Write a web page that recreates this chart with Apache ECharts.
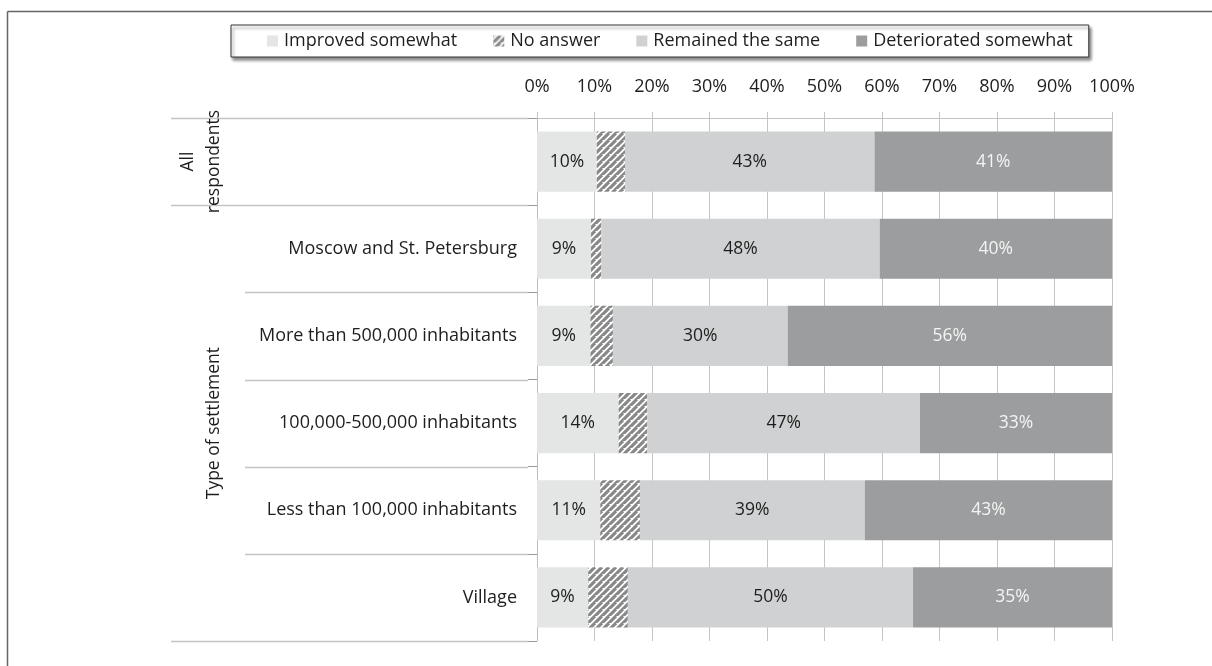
<!DOCTYPE html>
<html>
<head>
<meta charset="utf-8">
<script src="https://cdn.jsdelivr.net/npm/echarts@6/dist/echarts.min.js"></script>
<style>
html,body{margin:0;padding:0;background:#fff;}
#chart{width:1212px;height:666px;}
</style>
</head>
<body>
<div id="chart"></div>
<script>
// ---- data ----
const categories = ['', 'Moscow and St. Petersburg', 'More than 500,000 inhabitants', '100,000-500,000 inhabitants', 'Less than 100,000 inhabitants', 'Village'];
const seriesNames = ['Improved somewhat', 'No answer', 'Remained the same', 'Deteriorated somewhat'];
const improved     = [10.4, 9.4, 9.3, 14.2, 11.0, 8.9];
const noAnswer     = [4.9, 1.8, 3.9, 5.0, 6.9, 6.9];
const remained     = [43.4, 48.4, 30.4, 47.4, 39.1, 49.6];
const deteriorated = [41.3, 40.4, 56.4, 33.4, 43.0, 34.6];
const xTicks = [0, 10, 20, 30, 40, 50, 60, 70, 80, 90, 100];
const groupLabels = ['All\nrespondents', 'Type of settlement'];
const groupRanges = [[0, 0], [1, 5]];

// ---- style ----
const FONT = 'Open Sans';
const FS = 17.5;
const textColor = '#1e1e1e';

function hatch() {
  const s = 7;
  const c = document.createElement('canvas');
  c.width = s; c.height = s;
  const g = c.getContext('2d');
  g.fillStyle = '#ffffff';
  g.fillRect(0, 0, s, s);
  g.strokeStyle = '#888888';
  g.lineWidth = 3.2;
  g.beginPath();
  g.moveTo(0, s); g.lineTo(s, 0);
  g.moveTo(-s, s); g.lineTo(0, 0);
  g.moveTo(0, 2 * s); g.lineTo(2 * s, 0);
  g.stroke();
  return c;
}

const chart = echarts.init(document.getElementById('chart'), null, {renderer: 'canvas'});
const lbl = (color) => ({
  show: true, position: 'inside', color: color, fontFamily: FONT, fontSize: FS,
  formatter: p => Math.round(p.value) + '%'
});

const option = {
  animation: false,
  backgroundColor: '#fff',
  textStyle: {fontFamily: FONT},
  legend: {
    left: 231, top: 25,
    padding: [7, 16, 7, 36],
    itemGap: 36, itemWidth: 11, itemHeight: 11,
    icon: 'rect',
    backgroundColor: '#fff',
    borderColor: '#333', borderWidth: 1,
    shadowColor: 'rgba(0,0,0,0.45)', shadowBlur: 3, shadowOffsetX: 2, shadowOffsetY: 3,
    textStyle: {fontFamily: FONT, fontSize: 18, color: textColor, padding: [0, 0, 0, 1]},
    data: seriesNames
  },
  grid: {left: 537, right: 100, top: 118, bottom: 25, containLabel: false},
  xAxis: {
    type: 'value', position: 'top', min: 0, max: 100, interval: 10,
    axisLine: {show: true, lineStyle: {color: '#c4c4c4'}},
    axisTick: {show: true, length: 6, lineStyle: {color: '#c4c4c4'}},
    splitLine: {show: true, lineStyle: {color: '#c4c4c4', width: 1}},
    axisLabel: {fontFamily: FONT, fontSize: 18, color: textColor, margin: 22,
      formatter: v => (xTicks.indexOf(v) >= 0 ? v + '%' : '')}
  },
  yAxis: {
    type: 'category', inverse: true, data: categories,
    axisLine: {show: true, lineStyle: {color: '#bdbdbd'}},
    axisTick: {show: true, length: 9, lineStyle: {color: '#9a9a9a'}},
    axisLabel: {fontFamily: FONT, fontSize: 18, color: textColor, margin: 20}
  },
  series: [
    {name: seriesNames[0], type: 'bar', stack: 't', barCategoryGap: '31%', data: improved,
      itemStyle: {color: '#e4e5e5'}, label: lbl(textColor)},
    {name: seriesNames[1], type: 'bar', stack: 't', data: noAnswer,
      itemStyle: {color: {image: hatch(), repeat: 'repeat'}}, label: {show: false}},
    {name: seriesNames[2], type: 'bar', stack: 't', data: remained,
      itemStyle: {color: '#d0d1d2'}, label: lbl(textColor)},
    {name: seriesNames[3], type: 'bar', stack: 't', data: deteriorated,
      itemStyle: {color: '#9c9d9e'}, label: lbl('#f4f4f4')}
  ]
};
chart.setOption(option);

// ---- group labels & separators, positioned through the axis ----
const y0 = chart.convertToPixel({yAxisIndex: 0}, categories[0]);
const y1 = chart.convertToPixel({yAxisIndex: 0}, categories[1]);
const band = y1 - y0;
const axisX = chart.convertToPixel({xAxisIndex: 0}, 0);
const graphics = [];
const lineColor = '#c4c4c4';
// outer frame
graphics.push({type: 'line', shape: {x1: 7.5, y1: 11.5, x2: 1212, y2: 11.5}, style: {stroke: '#666', lineWidth: 1.5}});
graphics.push({type: 'line', shape: {x1: 7.5, y1: 11.5, x2: 7.5, y2: 666}, style: {stroke: '#666', lineWidth: 1.5}});
// separators
for (let i = 0; i <= categories.length; i++) {
  const y = Math.round(y0 - band / 2 + i * band) + 0.5;
  const isGroupEdge = groupRanges.some(r => r[0] === i || r[1] + 1 === i);
  const xStart = isGroupEdge ? 171 : 245;
  graphics.push({type: 'line', shape: {x1: xStart, y1: y, x2: axisX - 9, y2: y}, style: {stroke: lineColor, lineWidth: 1.5}});
}
groupLabels.forEach((t, gi) => {
  const r = groupRanges[gi];
  const yc = (chart.convertToPixel({yAxisIndex: 0}, categories[r[0]]) + chart.convertToPixel({yAxisIndex: 0}, categories[r[1]])) / 2;
  graphics.push({
    type: 'text', x: gi === 0 ? 201 : 214, y: yc, rotation: Math.PI / 2,
    style: {text: t, fontFamily: FONT, fontSize: 17.5, fill: textColor, align: 'center', verticalAlign: 'middle', lineHeight: 26}
  });
});
chart.setOption({graphic: graphics});
</script>
</body>
</html>
